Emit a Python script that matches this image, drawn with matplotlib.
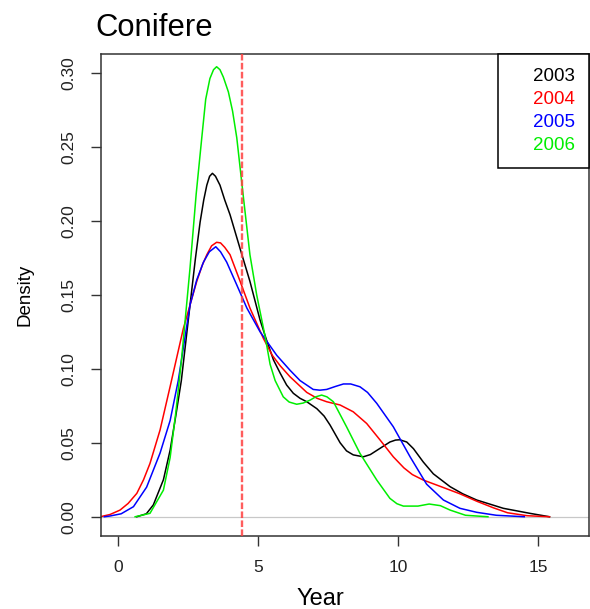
import matplotlib
matplotlib.use('Agg')
import matplotlib.pyplot as plt
from matplotlib.lines import Line2D

plt.rcParams['font.family'] = ['Liberation Sans', 'DejaVu Sans']

# density curves, one pair of lists per year
years = ['2003', '2004', '2005', '2006']
colors = ['black', 'red', 'blue', '#00ee00']

x2003 = [0.66, 1.0, 1.25, 1.61, 1.85, 2.05, 2.25, 2.56, 2.75, 2.92, 3.05, 3.16, 3.26,
         3.36, 3.47, 3.63, 3.80, 3.99, 4.35, 4.70, 5.06, 5.30, 5.54, 5.78, 6.01, 6.25,
         6.49, 6.73, 7.09, 7.35, 7.56, 7.92, 8.15, 8.39, 8.75, 9.0, 9.23, 9.70, 9.9,
         10.05, 10.3, 10.54, 10.89, 11.25, 11.85, 12.3, 12.8, 13.75, 14.7, 15.4]
y2003 = [0.0, 0.002, 0.008, 0.025, 0.045, 0.068, 0.092, 0.143, 0.174, 0.199, 0.214,
         0.224, 0.230, 0.232, 0.230, 0.224, 0.214, 0.204, 0.181, 0.159, 0.133, 0.119,
         0.106, 0.097, 0.089, 0.0834, 0.080, 0.0777, 0.073, 0.068, 0.062, 0.0500,
         0.0445, 0.0418, 0.0405, 0.042, 0.0448, 0.0505, 0.0518, 0.052, 0.0505, 0.046,
         0.037, 0.029, 0.0203, 0.0155, 0.0113, 0.0057, 0.0023, 0.0]

x2004 = [-0.65, -0.3, 0.06, 0.35, 0.66, 0.9, 1.13, 1.49, 1.85, 2.32, 2.80, 3.0, 3.16,
         3.33, 3.51, 3.65, 3.80, 3.99, 4.35, 4.70, 5.18, 5.50, 5.78, 6.13, 6.73, 7.1,
         7.44, 7.92, 8.39, 8.87, 9.35, 9.82, 10.2, 10.5, 10.89, 11.5, 12.2, 12.8, 13.4,
         13.9, 14.6, 15.4]
y2004 = [0.0, 0.0015, 0.0045, 0.009, 0.0158, 0.025, 0.036, 0.0586, 0.088, 0.127, 0.159,
         0.170, 0.177, 0.183, 0.1854, 0.185, 0.182, 0.177, 0.159, 0.141, 0.1205, 0.109,
         0.102, 0.0946, 0.084, 0.080, 0.0777, 0.0755, 0.0709, 0.063, 0.0518, 0.0405,
         0.033, 0.0285, 0.0248, 0.0205, 0.0155, 0.0105, 0.006, 0.0027, 0.0007, 0.0]

x2005 = [-0.5, -0.3, 0.1, 0.54, 1.01, 1.49, 1.85, 2.14, 2.56, 2.8, 3.04, 3.25, 3.48,
         3.65, 3.87, 4.23, 4.59, 5.06, 5.66, 6.13, 6.49, 6.96, 7.2, 7.44, 7.75, 8.04,
         8.3, 8.63, 8.9, 9.23, 9.82, 10.42, 11.01, 11.61, 12.2, 12.8, 13.5, 14.5]
y2005 = [0.0, 0.0005, 0.002, 0.0068, 0.020, 0.043, 0.065, 0.092, 0.143, 0.160, 0.172,
         0.179, 0.1824, 0.179, 0.172, 0.1566, 0.141, 0.125, 0.109, 0.099, 0.092, 0.086,
         0.0855, 0.086, 0.088, 0.0897, 0.0897, 0.0878, 0.084, 0.0766, 0.0608, 0.0405,
         0.022, 0.0113, 0.0057, 0.0030, 0.001, 0.0]

x2006 = [0.6, 1.13, 1.61, 1.85, 2.05, 2.25, 2.56, 2.78, 2.98, 3.12, 3.27, 3.40, 3.51,
         3.63, 3.75, 3.93, 4.08, 4.23, 4.46, 4.70, 4.94, 5.24, 5.42, 5.6, 5.89, 6.1,
         6.37, 6.6, 6.85, 7.05, 7.26, 7.45, 7.68, 8.15, 8.63, 9.23, 9.70, 9.95, 10.18,
         10.7, 11.1, 11.5, 11.85, 12.4, 13.2]
y2006 = [0.0, 0.0023, 0.018, 0.040, 0.070, 0.105, 0.168, 0.218, 0.256, 0.282, 0.296,
         0.302, 0.304, 0.302, 0.297, 0.287, 0.274, 0.256, 0.217, 0.177, 0.150, 0.122,
         0.103, 0.092, 0.081, 0.0775, 0.076, 0.0768, 0.0788, 0.081, 0.0822, 0.081,
         0.0777, 0.0608, 0.0428, 0.0248, 0.0124, 0.0088, 0.0072, 0.0072, 0.0086, 0.0075,
         0.0045, 0.001, 0.0]

cutoff = 4.43
xticks = [0, 5, 10, 15]
yticks = [0.0, 0.05, 0.10, 0.15, 0.20, 0.25, 0.30]

fig = plt.figure(figsize=(5.9, 6.09), dpi=100)
ax = fig.add_axes([100.7 / 590, 73.3 / 609, 488.3 / 590, 481.4 / 609])

ax.axhline(0, color='#c8c8c8', lw=0.9, zorder=1)
for xs, ys, c in zip([x2003, x2004, x2005, x2006], [y2003, y2004, y2005, y2006], colors):
    ax.plot(xs, ys, color=c, lw=1.1, zorder=2)
ax.axvline(cutoff, color='#ff4040', lw=1.7, dashes=(2.8, 1.0), alpha=0.85, zorder=3)

ax.set_xlim(-0.63, 16.81)
ax.set_ylim(-0.0128, 0.3124)
ax.set_xticks(xticks)
ax.set_xticklabels([str(t) for t in xticks])
ax.set_yticks(yticks)
ax.set_yticklabels(['%.2f' % t for t in yticks], rotation=90, va='center')

ax.tick_params(axis='both', length=7.2, width=1.0, color='#333333', labelsize=12.5,
               labelcolor='#222222')
ax.tick_params(axis='y', pad=10)
ax.tick_params(axis='x', pad=10)
for s in ax.spines.values():
    s.set_color('#333333')
    s.set_linewidth(1.1)

handles = [Line2D([], [], linestyle='none') for _ in years]
leg = ax.legend(handles, years, loc='upper right', bbox_to_anchor=(1, 1),
                borderaxespad=0, fancybox=False, edgecolor='black', framealpha=1,
                fontsize=13.5, labelcolor=colors, borderpad=0.75, handlelength=0.7,
                handletextpad=0.4, labelspacing=0.3)
leg.get_frame().set_linewidth(1.1)

fig.text(95 / 590, 573 / 609, 'Conifere', fontsize=22.3, ha='left', va='baseline')
fig.text(320 / 590, 4 / 609, 'Year', fontsize=17, ha='center', va='baseline')
fig.text(25 / 590, 314 / 609, 'Density', fontsize=13.5, rotation=90,
         ha='center', va='center')

fig.savefig('out.png', dpi=100)
